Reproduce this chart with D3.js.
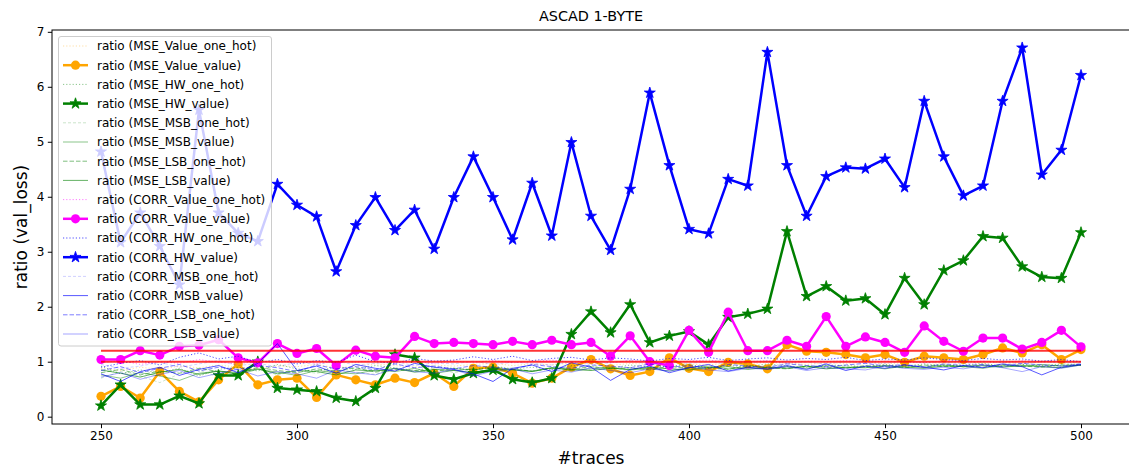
<!DOCTYPE html>
<html>
<head>
<meta charset="utf-8">
<script src="https://cdn.jsdelivr.net/npm/d3@7"></script>
<style>
  html, body { margin: 0; padding: 0; background: #fff; }
  svg { display: block; font-family: "DejaVu Sans", sans-serif; }
</style>
</head>
<body>
<svg id="chart" width="1129" height="467"></svg>
<script>
// ---- data -------------------------------------------------------------
const traces = [250,255,260,265,270,275,280,285,290,295,300,305,310,315,320,325,330,335,340,345,350,
  355,360,365,370,375,380,385,390,395,400,405,410,415,420,425,430,435,440,445,450,455,460,465,470,475,
  480,485,490,495,500];

const xTicks = [250, 300, 350, 400, 450, 500];
const yTicks = [0, 1, 2, 3, 4, 5, 6, 7];
const refLines = [1.2, 1.0];

const mseValueOneHot = [0.88,0.84,0.90,0.86,0.92,0.89,0.94,0.90,0.87,0.93,0.91,0.95,0.89,0.92,0.96,0.93,0.90,0.94,0.92,0.95,0.97,0.93,0.96,0.94,0.98,0.95,0.93,0.97,0.95,0.99,0.96,0.94,0.98,0.96,0.99,0.97,0.95,0.98,0.97,1.00,0.96,0.98,0.99,0.97,1.00,0.98,0.99,0.97,1.00,0.98,0.99];
const mseValueValue = [0.37,0.55,0.34,0.82,0.46,0.27,0.67,0.96,0.58,0.67,0.70,0.35,0.76,0.67,0.58,0.70,0.62,0.79,0.55,0.88,0.90,0.79,0.61,0.70,0.90,1.04,0.87,0.75,0.82,1.07,0.88,0.82,0.99,0.96,0.87,1.31,1.19,1.17,1.13,1.07,1.13,0.99,1.10,1.07,1.04,1.13,1.25,1.16,1.31,1.04,1.22];
const mseHwOneHot = [0.92,0.78,0.85,0.80,0.88,0.74,0.86,0.90,0.83,0.95,0.87,0.82,0.91,0.86,0.93,0.89,0.84,0.90,0.88,0.85,0.92,0.87,0.90,0.86,0.93,0.91,0.88,0.94,0.90,0.92,0.95,0.89,0.93,0.91,0.96,0.92,0.90,0.94,0.93,0.91,0.95,0.92,0.96,0.93,0.94,0.97,0.92,0.95,0.93,0.96,0.95];
const mseHwValue = [0.20,0.58,0.22,0.22,0.38,0.24,0.75,0.75,1.00,0.52,0.49,0.46,0.34,0.28,0.52,1.13,1.07,0.75,0.68,0.79,0.85,0.68,0.62,0.70,1.50,1.91,1.53,2.04,1.35,1.47,1.55,1.31,1.81,1.87,1.96,3.37,2.19,2.37,2.11,2.15,1.86,2.52,2.04,2.66,2.84,3.28,3.25,2.73,2.54,2.52,3.35];
const mseMsbOneHot = [0.70,0.82,0.74,0.62,0.78,0.85,0.72,0.80,0.88,0.76,0.84,0.79,0.86,0.81,0.77,0.85,0.83,0.88,0.80,0.86,0.84,0.89,0.82,0.87,0.91,0.85,0.88,0.84,0.90,0.87,0.92,0.88,0.85,0.90,0.93,0.88,0.91,0.87,0.92,0.90,0.94,0.89,0.92,0.95,0.90,0.93,0.91,0.95,0.92,0.94,0.96];
const mseMsbValue = [0.76,0.70,0.80,0.74,0.66,0.79,0.83,0.77,0.86,0.81,0.75,0.84,0.80,0.78,0.85,0.82,0.88,0.79,0.84,0.87,0.81,0.86,0.83,0.89,0.84,0.87,0.90,0.85,0.88,0.83,0.89,0.92,0.87,0.90,0.86,0.91,0.88,0.93,0.89,0.91,0.87,0.92,0.90,0.94,0.91,0.88,0.93,0.91,0.95,0.92,0.94];
const mseLsbOneHot = [0.80,0.86,0.76,0.83,0.79,0.88,0.82,0.78,0.90,0.84,0.80,0.87,0.83,0.89,0.81,0.86,0.84,0.82,0.88,0.85,0.90,0.86,0.83,0.88,0.86,0.91,0.87,0.89,0.85,0.92,0.88,0.90,0.86,0.93,0.89,0.87,0.92,0.90,0.88,0.93,0.91,0.89,0.94,0.91,0.93,0.90,0.95,0.92,0.90,0.94,0.93];
const mseLsbValue = [0.85,0.79,0.72,0.81,0.86,0.77,0.83,0.80,0.87,0.78,0.84,0.82,0.76,0.85,0.83,0.88,0.81,0.86,0.84,0.80,0.87,0.85,0.82,0.89,0.86,0.84,0.88,0.86,0.90,0.87,0.85,0.89,0.91,0.86,0.90,0.88,0.92,0.87,0.90,0.89,0.93,0.90,0.88,0.92,0.91,0.94,0.90,0.93,0.91,0.89,0.94];
const corrValueOneHot = [0.98,1.02,0.95,1.00,0.97,1.04,0.99,0.96,1.01,0.98,1.03,0.97,1.00,0.99,1.02,0.98,1.00,0.97,1.01,0.99,1.02,0.98,1.00,1.03,0.99,1.01,0.98,1.02,1.00,0.99,1.01,1.03,0.99,1.00,1.02,0.98,1.01,1.00,1.02,0.99,1.01,1.00,0.98,1.02,1.00,1.01,0.99,1.02,1.00,1.01,1.00];
const corrValueValue = [1.04,1.04,1.20,1.12,1.28,1.30,1.40,1.07,0.98,1.33,1.15,1.24,0.93,1.21,1.10,1.07,1.46,1.33,1.35,1.33,1.31,1.37,1.31,1.39,1.31,1.35,1.10,1.47,1.00,0.93,1.57,1.17,1.90,1.20,1.20,1.39,1.28,1.82,1.28,1.45,1.35,1.17,1.65,1.37,1.19,1.43,1.43,1.23,1.35,1.57,1.27];
const corrHwOneHot = [0.90,0.97,1.02,0.94,1.08,1.16,1.05,1.10,0.98,1.04,0.96,1.02,0.99,1.12,1.00,0.97,1.06,1.01,1.03,1.09,1.04,1.10,1.02,1.06,1.08,1.03,1.07,1.05,1.01,1.06,1.04,1.08,1.02,1.05,1.07,1.03,1.06,1.04,1.08,1.02,1.05,1.03,1.07,1.04,1.02,1.06,1.03,1.05,1.01,1.04,1.00];
const corrHwValue = [4.82,3.17,3.71,3.10,2.40,5.58,3.71,3.34,3.19,4.23,3.85,3.64,2.64,3.48,3.99,3.39,3.76,3.05,3.99,4.73,3.99,3.22,4.25,3.29,4.99,3.65,3.03,4.14,5.89,4.57,3.41,3.33,4.32,4.20,6.63,4.57,3.65,4.37,4.53,4.51,4.69,4.17,5.74,4.73,4.02,4.20,5.74,6.71,4.40,4.85,6.21];
const corrMsbOneHot = [0.95,0.88,0.92,0.99,0.90,0.96,1.02,0.93,0.97,0.91,0.99,0.95,1.01,0.94,0.97,1.00,0.93,0.98,0.96,1.01,0.95,0.99,0.97,0.94,1.00,0.96,0.98,1.02,0.95,0.99,0.97,1.00,0.96,0.98,1.01,0.97,0.99,0.96,1.00,0.98,0.97,1.01,0.98,0.99,0.96,1.00,0.98,0.97,1.00,0.99,0.98];
const corrMsbValue = [0.78,0.64,0.82,0.90,0.75,0.86,0.93,0.80,0.97,1.33,0.84,0.92,0.79,0.95,0.88,0.83,0.97,0.90,0.86,0.78,0.64,0.88,0.94,0.82,0.98,0.90,0.66,0.86,0.92,0.80,0.89,0.95,0.83,0.90,0.87,0.93,0.86,0.96,0.84,0.92,0.88,0.94,0.90,0.85,0.93,0.89,0.96,0.91,0.76,0.90,0.95];
const corrLsbOneHot = [0.84,0.91,0.80,0.88,0.95,0.83,0.90,0.86,0.93,0.89,0.82,0.94,0.87,0.91,0.85,0.96,0.89,0.92,0.87,0.93,0.90,0.86,0.95,0.91,0.88,0.94,0.92,0.89,0.96,0.90,0.93,0.88,0.95,0.92,0.90,0.96,0.93,0.91,0.94,0.97,0.92,0.95,0.90,0.96,0.93,0.95,0.91,0.97,0.94,0.92,0.96];
const corrLsbValue = [0.72,0.80,0.68,0.77,0.84,0.71,0.79,0.86,0.74,0.82,0.78,0.70,0.85,0.80,0.76,0.88,0.82,0.79,0.86,0.74,0.83,0.87,0.78,0.85,0.81,0.89,0.84,0.80,0.87,0.83,0.90,0.85,0.82,0.88,0.86,0.91,0.84,0.89,0.87,0.85,0.92,0.88,0.86,0.90,0.87,0.93,0.89,0.82,0.91,0.88,0.94];

// ---- series table: values + drawing style ------------------------------
const series = [
  { name: "ratio (MSE_Value_one_hot)",  values: mseValueOneHot,  color: "orange",  op: 0.35, w: 1, dash: "1.2,2" },
  { name: "ratio (MSE_Value_value)",    values: mseValueValue,   color: "orange",  op: 1,    w: 2.5, marker: "circle" },
  { name: "ratio (MSE_HW_one_hot)",     values: mseHwOneHot,     color: "green",   op: 0.45, w: 1, dash: "1.2,2" },
  { name: "ratio (MSE_HW_value)",       values: mseHwValue,      color: "green",   op: 1,    w: 2.5, marker: "star" },
  { name: "ratio (MSE_MSB_one_hot)",    values: mseMsbOneHot,    color: "green",   op: 0.2,  w: 1, dash: "3,2" },
  { name: "ratio (MSE_MSB_value)",      values: mseMsbValue,     color: "green",   op: 0.45, w: 1 },
  { name: "ratio (MSE_LSB_one_hot)",    values: mseLsbOneHot,    color: "green",   op: 0.5,  w: 1, dash: "4.5,2" },
  { name: "ratio (MSE_LSB_value)",      values: mseLsbValue,     color: "green",   op: 0.6,  w: 1 },
  { name: "ratio (CORR_Value_one_hot)", values: corrValueOneHot, color: "magenta", op: 0.5,  w: 1, dash: "1.2,2" },
  { name: "ratio (CORR_Value_value)",   values: corrValueValue,  color: "magenta", op: 1,    w: 2.5, marker: "circle" },
  { name: "ratio (CORR_HW_one_hot)",    values: corrHwOneHot,    color: "blue",    op: 0.7,  w: 1, dash: "1.2,2" },
  { name: "ratio (CORR_HW_value)",      values: corrHwValue,     color: "blue",    op: 1,    w: 2.5, marker: "star" },
  { name: "ratio (CORR_MSB_one_hot)",   values: corrMsbOneHot,   color: "blue",    op: 0.18, w: 1, dash: "3,2" },
  { name: "ratio (CORR_MSB_value)",     values: corrMsbValue,    color: "blue",    op: 0.65, w: 1 },
  { name: "ratio (CORR_LSB_one_hot)",   values: corrLsbOneHot,   color: "blue",    op: 0.5,  w: 1, dash: "4.5,2" },
  { name: "ratio (CORR_LSB_value)",     values: corrLsbValue,    color: "blue",    op: 0.35, w: 1 }
];

// ---- layout ------------------------------------------------------------
const svg = d3.select("#chart");
const plotLeft = 52, plotRight = 1130, plotTop = 30, plotBottom = 424;

const x = d3.scaleLinear().domain([237.5, 512.5]).range([plotLeft, plotRight]);
const y = d3.scaleLinear().domain([-0.133, 7.033]).range([plotBottom, plotTop]);

svg.append("defs").append("clipPath").attr("id", "plotClip")
  .append("rect").attr("x", plotLeft).attr("y", plotTop)
  .attr("width", plotRight - plotLeft).attr("height", plotBottom - plotTop);

const plot = svg.append("g").attr("clip-path", "url(#plotClip)");

const line = d3.line().x(d => x(d[0])).y(d => y(d[1]));
const star = d3.symbol().type(d3.symbolStar).size(38);

function drawMarker(g, s, cx, cy) {
  if (s.marker === "circle") {
    g.append("circle").attr("cx", cx).attr("cy", cy).attr("r", 4.6).attr("fill", s.color);
  } else if (s.marker === "star") {
    g.append("path").attr("d", star()).attr("transform", `translate(${cx},${cy})`)
      .attr("fill", s.color).attr("stroke", s.color).attr("stroke-width", 0.8);
  }
}

series.forEach(s => {
  const pts = traces.map((t, i) => [t, s.values[i]]);
  const g = plot.append("g").attr("opacity", s.op);
  g.append("path").attr("d", line(pts)).attr("fill", "none")
    .attr("stroke", s.color).attr("stroke-width", s.w)
    .attr("stroke-linejoin", "round")
    .attr("stroke-dasharray", s.dash || null);
  if (s.marker) pts.forEach(p => drawMarker(g, s, x(p[0]), y(p[1])));
});

// horizontal reference lines
refLines.forEach(v => {
  plot.append("line")
    .attr("x1", x(traces[0])).attr("x2", x(traces[traces.length - 1]))
    .attr("y1", y(v)).attr("y2", y(v))
    .attr("stroke", "red").attr("stroke-opacity", 0.8).attr("stroke-width", 2);
});

// ---- axes ---------------------------------------------------------------
const xAxis = svg.append("g").attr("transform", `translate(0,${plotBottom})`)
  .call(d3.axisBottom(x).tickValues(xTicks).tickSize(4.2).tickPadding(3).tickFormat(d3.format("d")));
const yAxis = svg.append("g").attr("transform", `translate(${plotLeft},0)`)
  .call(d3.axisLeft(y).tickValues(yTicks).tickSize(4.2).tickPadding(3.5).tickFormat(d3.format("d")));
[xAxis, yAxis].forEach(a => {
  a.selectAll("text").attr("font-size", 12).attr("font-family", "DejaVu Sans").attr("fill", "#000");
  a.selectAll("line").attr("stroke", "#000").attr("stroke-width", 1);
  a.select(".domain").remove();
});

// spines
svg.append("rect").attr("x", plotLeft).attr("y", plotTop)
  .attr("width", plotRight - plotLeft).attr("height", plotBottom - plotTop)
  .attr("fill", "none").attr("stroke", "#000").attr("stroke-width", 1);

// titles
svg.append("text").attr("x", (plotLeft + plotRight) / 2).attr("y", 21).attr("text-anchor", "middle")
  .attr("font-size", 14.4).text("ASCAD 1-BYTE");
svg.append("text").attr("x", (plotLeft + plotRight) / 2).attr("y", 464).attr("text-anchor", "middle")
  .attr("font-size", 17).text("#traces");
svg.append("text").attr("transform", `translate(27,${(plotTop + plotBottom) / 2}) rotate(-90)`)
  .attr("text-anchor", "middle").attr("font-size", 17).text("ratio (val_loss)");

// ---- legend -------------------------------------------------------------
const lg = svg.append("g");
lg.append("rect").attr("x", 58.5).attr("y", 36.5).attr("width", 213).attr("height", 309.5)
  .attr("rx", 2.5).attr("fill", "#fff").attr("fill-opacity", 0.8).attr("stroke", "#ccc").attr("stroke-width", 1);

series.forEach((s, i) => {
  const cy = 46 + i * 19.2;
  const g = lg.append("g");
  const h = g.append("g").attr("opacity", s.op);
  h.append("line").attr("x1", 63).attr("x2", 88).attr("y1", cy).attr("y2", cy)
    .attr("stroke", s.color).attr("stroke-width", s.w).attr("stroke-dasharray", s.dash || null);
  if (s.marker) drawMarker(h, s, 75.5, cy);
  g.append("text").attr("x", 97).attr("y", cy + 4.3).attr("font-size", 12).attr("fill", "#000").text(s.name);
});
</script>
</body>
</html>
